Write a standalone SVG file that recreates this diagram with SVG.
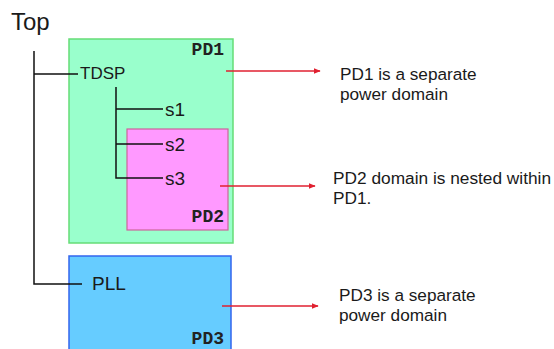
<svg xmlns="http://www.w3.org/2000/svg" width="554" height="349" viewBox="0 0 554 349">
<defs>
<style>
.t{font-family:"Liberation Sans",Arial,sans-serif;fill:#1a1a1a}
.lbl{font-family:"Liberation Mono","Courier New",monospace;font-weight:bold;font-size:18px;fill:#222;text-anchor:end}
.tree{stroke:#111;stroke-width:1.5;fill:none}
.arr{stroke:#e02030;stroke-width:1.5;fill:none;marker-end:url(#ah)}
</style>
<marker id="ah" viewBox="0 0 10 10" refX="9" refY="5" markerWidth="7" markerHeight="7" orient="auto" markerUnits="userSpaceOnUse"><path d="M0,1 L10,5 L0,9 z" fill="#e02030"/></marker>
</defs>
<rect width="554" height="349" fill="#ffffff"/>
<text class="t" x="11" y="30" font-size="24">Top</text>
<g id="PD1">
<rect x="69" y="39" width="164" height="204" fill="#99ffcc" stroke="#66dd77" stroke-width="1.5"/>
<text class="lbl" x="224" y="55">PD1</text>
</g>
<g id="PD2">
<rect x="127" y="129" width="101" height="101" fill="#ff99ff" stroke="#cc6699" stroke-width="1.2"/>
<text class="lbl" x="224" y="222">PD2</text>
</g>
<g id="PD3">
<rect x="69" y="256" width="162" height="100" fill="#66ccff" stroke="#3366ee" stroke-width="1.5"/>
<text class="lbl" x="224" y="344">PD3</text>
</g>
<g id="TDSP"><text class="t" x="80" y="79" font-size="17">TDSP</text></g>
<g id="s1"><text class="t" x="165" y="116" font-size="19">s1</text></g>
<g id="s2"><text class="t" x="165" y="151" font-size="19">s2</text></g>
<g id="s3"><text class="t" x="165" y="185" font-size="19">s3</text></g>
<g id="PLL"><text class="t" x="92" y="290" font-size="19">PLL</text></g>
<g id="note1"><text class="t" x="340" y="80" font-size="17.2">PD1 is a separate</text><text class="t" x="340" y="100" font-size="17.2">power domain</text></g>
<g id="note2"><text class="t" x="333" y="184" font-size="17.3">PD2 domain is nested within</text><text class="t" x="333" y="204" font-size="17.3">PD1.</text></g>
<g id="note3"><text class="t" x="339" y="301" font-size="17.2">PD3 is a separate</text><text class="t" x="339" y="321" font-size="17.2">power domain</text></g>
<g id="connectors">
<path class="tree" d="M34,51 V284 H82 M34,74 H78"/>
<path class="tree" d="M116,87 V178 H163 M116,109 H163 M116,144 H163"/>
<path class="arr" d="M226,71 H320"/>
<path class="arr" d="M220,186 H315"/>
<path class="arr" d="M222,306 H318"/>
</g>
</svg>
